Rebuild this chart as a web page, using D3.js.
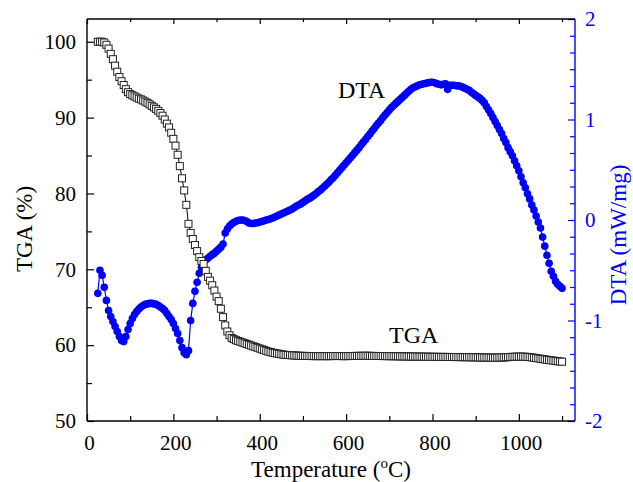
<!DOCTYPE html>
<html>
<head>
<meta charset="utf-8">
<script src="https://cdn.jsdelivr.net/npm/d3@7"></script>
<style>
  html, body { margin: 0; padding: 0; background: #fff; }
  svg { display: block; }
  text { font-family: "Liberation Serif", "Times New Roman", serif; }
</style>
</head>
<body>
<svg id="chart" width="633" height="482"></svg>
<script>
// ---------------- data ----------------
const temperature = [
  25,30,35,40,45,50,55,60,65,70,75,80,85,90,95,100,105,110,115,120,
  125,130,135,140,145,150,155,160,165,170,175,180,185,190,195,200,205,210,215,220,
  225,230,235,240,245,250,255,260,265,270,275,280,285,290,295,300,305,310,315,320,
  325,330,335,340,345,350,355,360,365,370,375,380,385,390,395,400,405,410,415,420,
  425,430,435,440,445,450,455,460,465,470,475,480,485,490,495,500,505,510,515,520,
  525,530,535,540,545,550,555,560,565,570,575,580,585,590,595,600,605,610,615,620,
  625,630,635,640,645,650,655,660,665,670,675,680,685,690,695,700,705,710,715,720,
  725,730,735,740,745,750,755,760,765,770,775,780,785,790,795,800,805,810,815,820,
  825,830,835,840,845,850,855,860,865,870,875,880,885,890,895,900,905,910,915,920,
  925,930,935,940,945,950,955,960,965,970,975,980,985,990,995,1000,1005,1010,1015,1020,
  1025,1030,1035,1040,1045,1050,1055,1060,1065,1070,1075,1080,1085,1090,1095,1100
];
const tgaValues = [
  100.0,100.0,100.0,99.9,99.6,99.1,98.4,97.7,96.85,96.05,95.35,94.8,94.3,93.75,93.35,93.1,92.95,92.8,92.65,92.5,
  92.4,92.25,92.1,91.95,91.75,91.55,91.35,91.15,90.9,90.6,90.25,89.75,89.2,88.7,88.0,87.2,86.3,85.1,83.6,82.0,
  80.4,78.5,76.0,74.8,74.0,73.2,72.4,71.6,71.1,70.7,69.8,69.0,68.5,67.9,67.2,66.4,65.8,64.8,63.7,62.6,
  61.8,61.3,60.95,60.8,60.65,60.55,60.45,60.35,60.25,60.15,60.05,59.95,59.85,59.75,59.65,59.55,59.45,59.35,59.25,59.15,
  59.1,59.0,58.95,58.9,58.85,58.8,58.75,58.72,58.7,58.68,58.66,58.64,58.62,58.6,58.6,58.58,58.58,58.57,58.57,58.56,
  58.56,58.55,58.55,58.56,58.56,58.55,58.55,58.55,58.56,58.56,58.57,58.57,58.56,58.56,58.55,58.55,58.56,58.57,58.57,58.58,
  58.58,58.59,58.59,58.6,58.6,58.6,58.59,58.58,58.58,58.57,58.57,58.57,58.56,58.56,58.55,58.55,58.55,58.54,58.54,58.53,
  58.53,58.52,58.52,58.51,58.51,58.5,58.5,58.5,58.49,58.49,58.48,58.48,58.48,58.47,58.47,58.46,58.46,58.46,58.45,58.45,
  58.45,58.45,58.44,58.44,58.44,58.43,58.43,58.43,58.42,58.42,58.42,58.41,58.41,58.4,58.4,58.4,58.39,58.38,58.38,58.37,
  58.37,58.36,58.36,58.35,58.35,58.35,58.36,58.37,58.38,58.4,58.42,58.44,58.46,58.47,58.48,58.48,58.48,58.48,58.47,58.45,
  58.42,58.38,58.34,58.3,58.25,58.2,58.16,58.12,58.08,58.04,58.0,57.96,57.92,57.88,57.85,57.82
];
const dtaValues = [
  -0.73,-0.50,-0.55,-0.67,-0.80,-0.90,-0.96,-1.01,-1.06,-1.11,-1.16,-1.20,-1.21,-1.16,-1.09,-1.03,-0.98,-0.94,-0.91,-0.885,
  -0.865,-0.85,-0.84,-0.835,-0.83,-0.83,-0.835,-0.84,-0.85,-0.865,-0.88,-0.90,-0.93,-0.96,-0.99,-1.03,-1.08,-1.13,-1.20,-1.27,
  -1.32,-1.34,-1.30,-1.0,-0.83,-0.71,-0.62,-0.53,-0.47,-0.42,-0.395,-0.38,-0.36,-0.345,-0.33,-0.31,-0.29,-0.27,-0.24,-0.13,
  -0.09,-0.06,-0.04,-0.025,-0.012,-0.005,0.0,0.0,-0.005,-0.015,-0.03,-0.035,-0.035,-0.03,-0.027,-0.02,-0.015,-0.008,0.0,0.005,
  0.012,0.02,0.03,0.04,0.05,0.06,0.07,0.08,0.09,0.10,0.11,0.125,0.14,0.15,0.16,0.175,0.19,0.205,0.215,0.23,
  0.245,0.26,0.28,0.295,0.315,0.335,0.355,0.375,0.40,0.42,0.445,0.47,0.495,0.52,0.545,0.57,0.595,0.62,0.645,0.67,
  0.695,0.72,0.75,0.775,0.80,0.83,0.855,0.885,0.91,0.94,0.965,0.99,1.02,1.045,1.07,1.095,1.12,1.14,1.16,1.18,
  1.20,1.22,1.24,1.26,1.28,1.30,1.315,1.325,1.335,1.345,1.35,1.355,1.36,1.365,1.37,1.37,1.365,1.355,1.35,1.345,
  1.35,1.355,1.30,1.34,1.34,1.34,1.335,1.335,1.33,1.32,1.31,1.30,1.29,1.27,1.255,1.24,1.225,1.21,1.19,1.165,
  1.13,1.095,1.06,1.02,0.98,0.94,0.90,0.86,0.81,0.77,0.72,0.68,0.64,0.59,0.54,0.49,0.43,0.37,0.32,0.26,
  0.21,0.15,0.10,0.04,-0.02,-0.08,-0.17,-0.26,-0.35,-0.43,-0.51,-0.56,-0.61,-0.64,-0.66,-0.68
];

const xMajorTicks = [0, 200, 400, 600, 800, 1000];
const xMinorTicks = [100, 300, 500, 700, 900, 1100];
const tgaMajorTicks = [50, 60, 70, 80, 90, 100];
const tgaMinorTicks = [55, 65, 75, 85, 95];
const dtaMajorTicks = [-2, -1, 0, 1, 2];
const dtaTickLabels = ["-2", "-1", "0", "1", "2"];
const dtaMinorSteps = 6;

// ---------------- layout ----------------
const L = 87, R = 575, T = 19, B = 421;
const blue = "#0000ff";
const serif = '"Liberation Serif", "Times New Roman", serif';

const svg = d3.select("#chart");
const x = d3.scaleLinear().domain([0, 1130]).range([L, R]);
const yT = d3.scaleLinear().domain([50, 103]).range([B, T]);
const yD = d3.scaleLinear().domain([-2, 2]).range([B, T]);

const dtaMinorTicks = [];
for (let i = 0; i < dtaMajorTicks.length - 1; i++) {
  for (let k = 1; k < dtaMinorSteps; k++) dtaMinorTicks.push(dtaMajorTicks[i] + k / dtaMinorSteps);
}

function styleAxis(g, color) {
  g.select(".domain").remove();
  g.selectAll("line").attr("stroke", color).attr("stroke-width", 1.2);
  g.selectAll("text").attr("fill", color).style("font-size", "21px").style("font-family", serif);
}

// bottom axis
const gB = svg.append("g").attr("transform", `translate(0,${B})`)
  .call(d3.axisBottom(x).tickValues(xMajorTicks).tickSize(-7).tickPadding(14).tickFormat(d3.format("d")));
styleAxis(gB, "#000");
gB.selectAll("text").attr("dy", "0.71em").attr("dx", 2);
const gBm = svg.append("g").attr("transform", `translate(0,${B})`)
  .call(d3.axisBottom(x).tickValues(xMinorTicks).tickSize(-5).tickFormat(""));
styleAxis(gBm, "#000");

// top axis (ticks only)
const gTop = svg.append("g").attr("transform", `translate(0,${T})`)
  .call(d3.axisTop(x).tickValues(xMajorTicks).tickSize(-5).tickFormat(""));
styleAxis(gTop, "#000");
const gTopm = svg.append("g").attr("transform", `translate(0,${T})`)
  .call(d3.axisTop(x).tickValues(xMinorTicks).tickSize(-3).tickFormat(""));
styleAxis(gTopm, "#000");

// left axis
const gL = svg.append("g").attr("transform", `translate(${L},0)`)
  .call(d3.axisLeft(yT).tickValues(tgaMajorTicks).tickSize(-7).tickPadding(11).tickFormat(d3.format("d")));
styleAxis(gL, "#000");
const gLm = svg.append("g").attr("transform", `translate(${L},0)`)
  .call(d3.axisLeft(yT).tickValues(tgaMinorTicks).tickSize(-5).tickFormat(""));
styleAxis(gLm, "#000");

// right axis
const gR = svg.append("g").attr("transform", `translate(${R},0)`)
  .call(d3.axisRight(yD).tickValues(dtaMajorTicks).tickSize(-7).tickPadding(10)
    .tickFormat((d, i) => dtaTickLabels[i]));
styleAxis(gR, blue);
const gRm = svg.append("g").attr("transform", `translate(${R},0)`)
  .call(d3.axisRight(yD).tickValues(dtaMinorTicks).tickSize(-5).tickFormat(""));
styleAxis(gRm, blue);

// frame
svg.append("line").attr("x1", L).attr("x2", R).attr("y1", B).attr("y2", B).attr("stroke", "#000").attr("stroke-width", 1.4);
svg.append("line").attr("x1", L).attr("x2", R).attr("y1", T).attr("y2", T).attr("stroke", "#000").attr("stroke-width", 1.4);
svg.append("line").attr("x1", L).attr("x2", L).attr("y1", T).attr("y2", B).attr("stroke", "#000").attr("stroke-width", 1.4);
svg.append("line").attr("x1", R).attr("x2", R).attr("y1", T).attr("y2", B).attr("stroke", blue).attr("stroke-width", 1.4);

// ---------------- series ----------------
const dta = temperature.map((t, i) => ({ t, v: dtaValues[i] }));
const tga = temperature.map((t, i) => ({ t, v: tgaValues[i] }));

svg.append("path").datum(dta)
  .attr("fill", "none").attr("stroke", blue).attr("stroke-width", 1.2)
  .attr("d", d3.line().x(d => x(d.t)).y(d => yD(d.v)));
svg.append("g").selectAll("circle").data(dta).join("circle")
  .attr("cx", d => x(d.t)).attr("cy", d => yD(d.v)).attr("r", 3.8)
  .attr("fill", blue);

svg.append("path").datum(tga)
  .attr("fill", "none").attr("stroke", "#000").attr("stroke-width", 1)
  .attr("d", d3.line().x(d => x(d.t)).y(d => yT(d.v)));
const sq = 7;
svg.append("g").selectAll("rect").data(tga).join("rect")
  .attr("x", d => x(d.t) - sq / 2).attr("y", d => yT(d.v) - sq / 2)
  .attr("width", sq).attr("height", sq)
  .attr("fill", "#fff").attr("stroke", "#222").attr("stroke-width", 1);

// ---------------- labels ----------------
const xt = svg.append("text").attr("x", (L + R) / 2).attr("y", 477)
  .attr("text-anchor", "middle").style("font-size", "23px").style("font-family", serif).attr("fill", "#000");
xt.append("tspan").text("Temperature (");
xt.append("tspan").text("o").style("font-size", "15px").attr("dy", -9);
xt.append("tspan").text("C)").attr("dy", 9);

svg.append("text").attr("transform", "translate(32,229) rotate(-90)")
  .attr("text-anchor", "middle").style("font-size", "23px").style("font-family", serif)
  .attr("fill", "#000").text("TGA (%)");

svg.append("text").attr("transform", "translate(626,235) rotate(-90)")
  .attr("text-anchor", "middle").style("font-size", "23px").style("font-family", serif)
  .attr("fill", blue).text("DTA (mW/mg)");

svg.append("text").attr("x", 338).attr("y", 98).style("font-size", "24px").style("font-family", serif)
  .attr("fill", "#000").text("DTA");
svg.append("text").attr("x", 389).attr("y", 343).style("font-size", "24px").style("font-family", serif)
  .attr("fill", "#000").text("TGA");
</script>
</body>
</html>
